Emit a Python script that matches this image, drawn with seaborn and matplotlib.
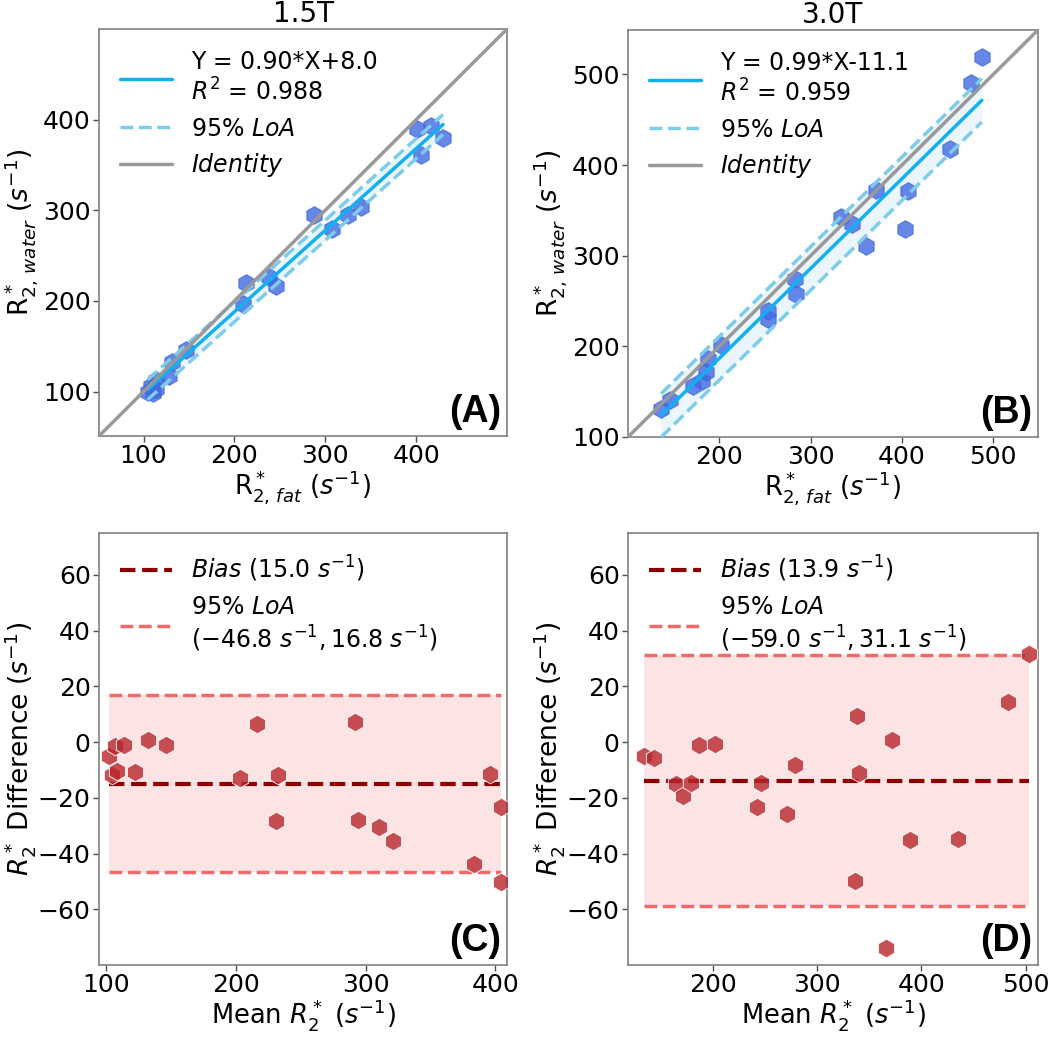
import numpy as np
import pandas as pd
import matplotlib
matplotlib.use('Agg')
import matplotlib.pyplot as plt
from matplotlib.lines import Line2D
import seaborn as sns

sns.set_style('ticks')
plt.rcParams['font.family'] = ['DejaVu Sans']
plt.rcParams['mathtext.fontset'] = 'dejavusans'
plt.rcParams['axes.edgecolor'] = '0.5'
plt.rcParams['axes.linewidth'] = 1.2
for key in ('text.color', 'axes.labelcolor', 'xtick.color', 'ytick.color'):
    plt.rcParams[key] = 'black'

# paired R2* measurements (s^-1), fat vs water, per field strength
fat_15 = [104.4, 107.7, 114.0, 110.4, 113.4, 127.8, 131.6, 146.8, 213.2, 209.4,
          238.2, 245.5, 287.9, 307.9, 325.4, 339.0, 401.5, 415.9, 405.4, 429.6]
water_15 = [99.3, 106.2, 112.8, 98.5, 103.0, 117.0, 132.2, 145.9, 219.5, 196.4,
            226.3, 217.0, 295.0, 279.9, 294.9, 303.4, 390.1, 392.5, 361.5, 379.4]
fat_30 = [136.2, 146.1, 171.4, 180.8, 185.8, 187.1, 202.3, 253.5, 253.3, 283.5,
          282.5, 360.6, 333.3, 345.7, 371.6, 406.2, 403.1, 452.2, 476.0, 487.4]
water_30 = [131.1, 140.4, 156.2, 161.5, 171.2, 185.9, 201.5, 230.1, 238.5, 257.8,
            274.2, 310.8, 342.8, 334.7, 372.5, 371.0, 329.3, 417.4, 490.5, 519.1]

# regression fits shown in the legends
fit_15 = (0.90, 8.0, 0.988)
fit_30 = (0.99, -11.1, 0.959)
fit_loa_15 = 11.0
fit_loa_30 = 24.0

# Bland-Altman bias and limits of agreement
bias_15, loa_15 = -15.0, (-46.8, 16.8)
bias_30, loa_30 = -13.9, (-59.0, 31.1)

BLUE = '#4169e1'
LINE_BLUE = '#12b0f0'
LOA_BLUE = '#7fcbea'
RED = '#b8262b'


def plot_corr(ax, fat, water, fit, loa_off, lim, ticks, title, tag):
    slope, intercept, r2 = fit
    df = pd.DataFrame({'fat': fat, 'water': water})
    xs = np.array([df.fat.min(), df.fat.max()])
    yfit = slope * xs + intercept
    ax.fill_between(xs, yfit - loa_off, yfit + loa_off, color='#e3f3fb', alpha=0.7, lw=0, zorder=1)
    sns.scatterplot(x='fat', y='water', data=df, ax=ax, marker='h', s=160,
                    color=BLUE, edgecolor=BLUE, linewidth=0.8, alpha=0.8, zorder=2)
    ax.plot(xs, yfit, color=LINE_BLUE, lw=2.5, zorder=3)
    ax.plot(xs, yfit + loa_off, color=LOA_BLUE, lw=2.5, ls='--', zorder=3)
    ax.plot(xs, yfit - loa_off, color=LOA_BLUE, lw=2.5, ls='--', zorder=3)
    ax.plot(lim, lim, color='#999999', lw=2.5, zorder=3)
    ax.set_xlim(lim)
    ax.set_ylim(lim)
    ax.set_xticks(ticks)
    ax.set_yticks(ticks)
    handles = [Line2D([], [], color=LINE_BLUE, lw=2.5),
               Line2D([], [], color=LOA_BLUE, lw=2.5, ls='--'),
               Line2D([], [], color='#999999', lw=2.5)]
    sign = '+' if intercept >= 0 else '-'
    labels = [f'Y = {slope:.2f}*X{sign}{abs(intercept):.1f}\n$R^2$ = {r2:.3f}',
              '95% $LoA$', '$Identity$']
    ax.legend(handles, labels, loc='upper left', frameon=False, fontsize=17,
              handlelength=2.2, borderaxespad=0.5, labelspacing=0.45)
    ax.set_xlabel('R$^*_{2,\\,fat}$ ($s^{-1}$)', fontsize=18.5, labelpad=0)
    ax.set_ylabel('R$^*_{2,\\,water}$ ($s^{-1}$)', fontsize=19, labelpad=2)
    ax.set_title(title, fontsize=20, pad=5)
    ax.text(0.985, 0.015, tag, transform=ax.transAxes, ha='right', va='bottom',
            fontsize=27, fontweight='bold', family='Liberation Sans')


def plot_ba(ax, fat, water, bias, loa, xlim, xticks, tag):
    fat = np.array(fat)
    water = np.array(water)
    df = pd.DataFrame({'mean': (fat + water) / 2, 'diff': water - fat})
    xs = np.array([df['mean'].min(), df['mean'].max()])
    ax.fill_between(xs, loa[0], loa[1], color='#fce4e4', lw=0, zorder=1)
    ax.plot(xs, [bias, bias], color='#8b0000', lw=3, ls='--', zorder=3)
    ax.plot(xs, [loa[0], loa[0]], color='#f06a6a', lw=2.5, ls='--', zorder=3)
    ax.plot(xs, [loa[1], loa[1]], color='#f06a6a', lw=2.5, ls='--', zorder=3)
    sns.scatterplot(x='mean', y='diff', data=df, ax=ax, marker='h', s=180,
                    color=RED, edgecolor='white', linewidth=0.8, alpha=0.8, zorder=4)
    ax.set_xlim(xlim)
    ax.set_ylim(-80, 75)
    ax.set_xticks(xticks)
    ax.set_yticks([-60, -40, -20, 0, 20, 40, 60])
    handles = [Line2D([], [], color='#8b0000', lw=3, ls='--'),
               Line2D([], [], color='#f06a6a', lw=2.5, ls='--')]
    labels = [f'$Bias$ ({abs(bias):.1f} $s^{{-1}}$)',
              f'95% $LoA$\n(${loa[0]:.1f}\\ s^{{-1}}, {loa[1]:.1f}\\ s^{{-1}}$)']
    ax.legend(handles, labels, loc='upper left', frameon=False, fontsize=17,
              handlelength=2.2, borderaxespad=0.5, labelspacing=0.45)
    ax.set_xlabel('Mean $R_2^*$ ($s^{-1}$)', fontsize=18.5, labelpad=0)
    ax.set_ylabel('$R_2^*$ Difference ($s^{-1}$)', fontsize=19, labelpad=0)
    ax.text(0.985, 0.015, tag, transform=ax.transAxes, ha='right', va='bottom',
            fontsize=27, fontweight='bold', family='Liberation Sans')


fig = plt.figure(figsize=(10.5, 10.38), dpi=100)
W, H = 1050, 1038
ax_a = fig.add_axes([99 / W, 1 - 436 / H, 408 / W, 407 / H])
ax_b = fig.add_axes([628 / W, 1 - 437 / H, 410 / W, 407 / H])
ax_c = fig.add_axes([99 / W, 1 - 965 / H, 408 / W, 432 / H])
ax_d = fig.add_axes([628 / W, 1 - 965 / H, 410 / W, 432 / H])

plot_corr(ax_a, fat_15, water_15, fit_15, fit_loa_15, (51, 500), [100, 200, 300, 400], '1.5T', '(A)')
plot_corr(ax_b, fat_30, water_30, fit_30, fit_loa_30, (100, 549), [100, 200, 300, 400, 500], '3.0T', '(B)')
ax_b.set_xticks([200, 300, 400, 500])
plot_ba(ax_c, fat_15, water_15, bias_15, loa_15, (94.5, 409), [100, 200, 300, 400], '(C)')
plot_ba(ax_d, fat_30, water_30, bias_30, loa_30, (118, 512), [200, 300, 400, 500], '(D)')

for ax in (ax_a, ax_b, ax_c, ax_d):
    ax.tick_params(labelsize=18, length=4, width=1, color='0.3', pad=2)

fig.savefig('out.png', dpi=100)
